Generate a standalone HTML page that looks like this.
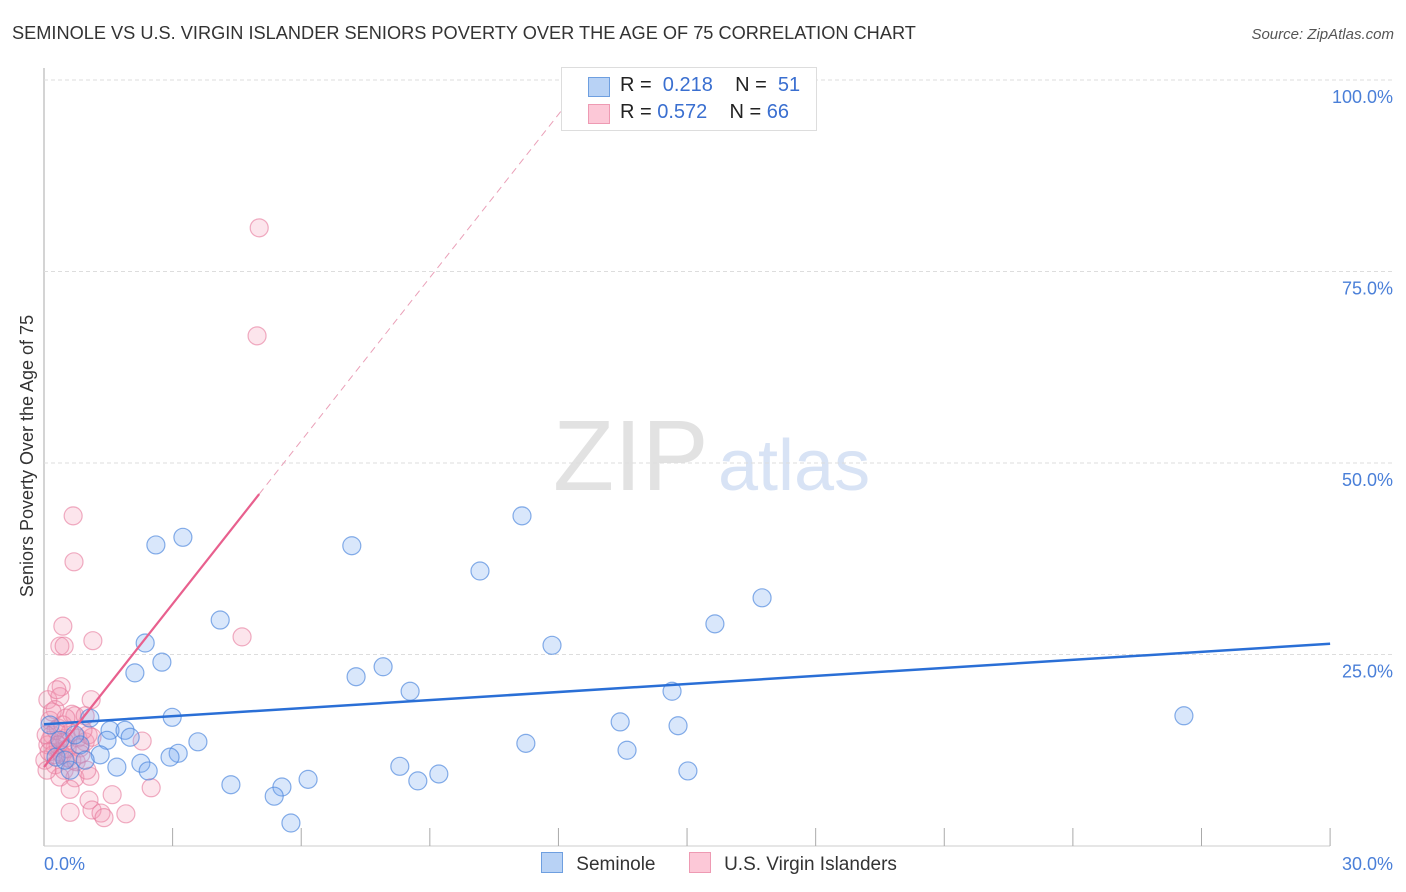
<!DOCTYPE html>
<html><head><meta charset="utf-8"><style>
body{margin:0;background:#fff;font-family:"Liberation Sans",sans-serif;}
#wrap{position:relative;width:1406px;height:892px;overflow:hidden;}
svg text{font-family:"Liberation Sans",sans-serif;}
</style></head><body>
<div id="wrap">
<svg id="chart" width="1406" height="892">
<text x="12" y="39" font-size="18.2" fill="#333">SEMINOLE VS U.S. VIRGIN ISLANDER SENIORS POVERTY OVER THE AGE OF 75 CORRELATION CHART</text>
<text x="1394" y="39" font-size="15" fill="#555" font-style="italic" text-anchor="end">Source: ZipAtlas.com</text>
<text x="33" y="456" font-size="18" fill="#333" text-anchor="middle" transform="rotate(-90 33 456)">Seniors Poverty Over the Age of 75</text>
<text x="553" y="490" font-size="100" fill="#e2e2e2" font-family="Liberation Serif">ZIP</text>
<text x="718" y="490" font-size="72" fill="#d8e3f5">atlas</text>
<g id="grid"></g><g id="marks"></g>
</svg>
<div style="position:absolute;left:561px;top:67px;width:254px;height:62px;border:1px solid #ddd;background:#fff;font-size:20px;color:#222;">
<div style="position:absolute;left:26px;top:9px;width:20px;height:18px;background:#b8d2f5;border:1px solid #6e9fe0"></div>
<div style="position:absolute;left:58px;top:6px">R = <span style="color:#3a6fd0">&nbsp;0.218</span>&nbsp;&nbsp;&nbsp; N = <span style="color:#3a6fd0">&nbsp;51</span></div>
<div style="position:absolute;left:26px;top:36px;width:20px;height:18px;background:#fcc8d7;border:1px solid #ee9ab3"></div>
<div style="position:absolute;left:58px;top:33px">R = <span style="color:#3a6fd0">0.572</span>&nbsp;&nbsp;&nbsp; N = <span style="color:#3a6fd0">66</span></div>
</div>
<div style="position:absolute;left:541px;top:852px;font-size:19px;color:#333;">
<span style="display:inline-block;width:20px;height:19px;background:#b8d2f5;border:1px solid #6e9fe0;vertical-align:-3px"></span>
<span style="margin-left:8px">Seminole</span>
<span style="display:inline-block;width:20px;height:19px;background:#fcc8d7;border:1px solid #ee9ab3;vertical-align:-3px;margin-left:28px"></span>
<span style="margin-left:8px">U.S. Virgin Islanders</span>
</div>
</div>
<script>
const blueX=[2.61,3.24,7.18,11.15,10.17,4.11,2.36,16.75,15.65,11.85,2.75,2.12,7.91,7.28,8.54,14.65,1.07,2.99,26.59,13.44,14.79,1.54,1.89,2.01,1.47,3.59,11.24,13.60,3.13,2.94,1.31,2.26,1.70,2.43,15.02,0.61,8.30,9.21,4.36,8.72,6.16,5.55,5.37,5.76,0.28,0.37,0.49,0.84,0.72,0.14,0.96];
const blueY=[39.3,40.3,39.2,43.1,35.9,29.5,26.5,32.4,29.0,26.2,24.0,22.6,23.4,22.1,20.2,20.2,16.7,16.8,17.0,16.2,15.7,15.1,15.1,14.2,13.8,13.6,13.4,12.5,12.1,11.6,11.9,10.8,10.3,9.8,9.8,9.9,10.4,9.4,8.0,8.5,8.7,7.7,6.5,3.0,11.6,13.8,11.2,13.2,14.5,15.8,11.2];
const pinkX=[5.02,4.97,0.68,0.70,0.44,0.37,0.47,1.14,4.62,1.10,0.40,0.09,0.37,0.26,0.72,0.65,0.96,0.14,0.19,0.33,0.51,0.09,0.26,0.37,0.49,0.61,0.79,0.02,0.26,0.42,0.56,0.65,0.84,0.96,1.03,2.29,1.12,0.86,0.47,0.72,0.37,1.07,0.61,1.59,1.05,1.12,0.61,1.33,1.91,1.40,2.50,0.07,0.14,0.28,0.05,0.21,0.33,0.44,0.54,0.75,0.91,1.00,0.19,0.30,0.51,0.12];
const pinkY=[80.7,66.6,43.1,37.1,28.7,26.1,26.1,26.8,27.3,19.1,20.8,19.1,19.5,17.8,17.0,17.2,17.0,16.4,14.5,15.4,14.1,13.2,12.8,12.3,13.6,14.8,14.1,11.2,10.6,11.9,11.5,11.2,12.8,13.6,14.5,13.7,14.2,12.0,9.9,8.9,9.0,9.1,7.4,6.7,6.0,4.7,4.4,4.3,4.2,3.7,7.6,9.9,13.8,15.1,14.5,11.9,13.2,15.8,12.7,11.0,15.1,9.9,17.5,20.4,16.7,12.3];
const yTicks=[25,50,75,100];
const yTickLabels=["25.0%","50.0%","75.0%","100.0%"];
const xTicks=[3,6,9,12,15,18,21,24,27,30];
const blueTrend=[15.9,26.4];
const pinkTrend=[10.3,7.1];
const NS="http://www.w3.org/2000/svg";
const X=v=>44+v*42.87, Y=v=>846-v*7.66;
function mk(t,a,p){const e=document.createElementNS(NS,t);for(const k in a)e.setAttribute(k,a[k]);p.appendChild(e);return e;}
const g=document.getElementById('grid'), m=document.getElementById('marks');
let e;
e=mk('line',{x1:44,y1:68,x2:44,y2:846,stroke:'#aaa','stroke-width':1},g);


e=mk('line',{x1:44,y1:846,x2:1330,y2:846,stroke:'#ccc','stroke-width':1},g);


yTicks.forEach((t,i)=>{
 e=mk('line',{x1:44,y1:Y(t),x2:1394,y2:Y(t),stroke:'#ddd','stroke-dasharray':'4,3'},g);
 
 
 e=mk('text',{x:1393,y:Y(t)+23,'font-size':18,fill:'#4a7fd8','text-anchor':'end'},g);
 e.textContent=yTickLabels[i];
 
 
});
xTicks.forEach(t=>{
 e=mk('line',{x1:X(t),y1:828,x2:X(t),y2:846,stroke:'#aaa'},g);
 
 
});
e=mk('text',{x:44,y:870,'font-size':18,fill:'#4a7fd8'},g);e.textContent='0.0%';


e=mk('text',{x:1393,y:870,'font-size':18,fill:'#4a7fd8','text-anchor':'end'},g);e.textContent='30.0%';


pinkX.forEach((x,i)=>{
 e=mk('circle',{cx:X(x),cy:Y(pinkY[i]),r:9,fill:'rgba(245,150,178,0.25)',stroke:'rgba(230,120,155,0.6)','stroke-width':1.2},m);
 
 
});
blueX.forEach((x,i)=>{
 e=mk('circle',{cx:X(x),cy:Y(blueY[i]),r:9,fill:'rgba(120,170,240,0.28)',stroke:'rgba(70,130,220,0.65)','stroke-width':1.2},m);
 
 
});
e=mk('line',{x1:X(0),y1:Y(blueTrend[0]),x2:X(30),y2:Y(blueTrend[1]),stroke:'#2a6fd6','stroke-width':2.5},m);


const pe=5.02, pd=(100-pinkTrend[0])/pinkTrend[1];
e=mk('line',{x1:X(0),y1:Y(pinkTrend[0]),x2:X(pe),y2:Y(pinkTrend[0]+pinkTrend[1]*pe),stroke:'#e8608e','stroke-width':2.2},m);


e=mk('line',{x1:X(pe),y1:Y(pinkTrend[0]+pinkTrend[1]*pe),x2:X(pd),y2:Y(100),stroke:'#eaa0b8','stroke-width':1,'stroke-dasharray':'7,5'},m);


</script>
</body></html>
